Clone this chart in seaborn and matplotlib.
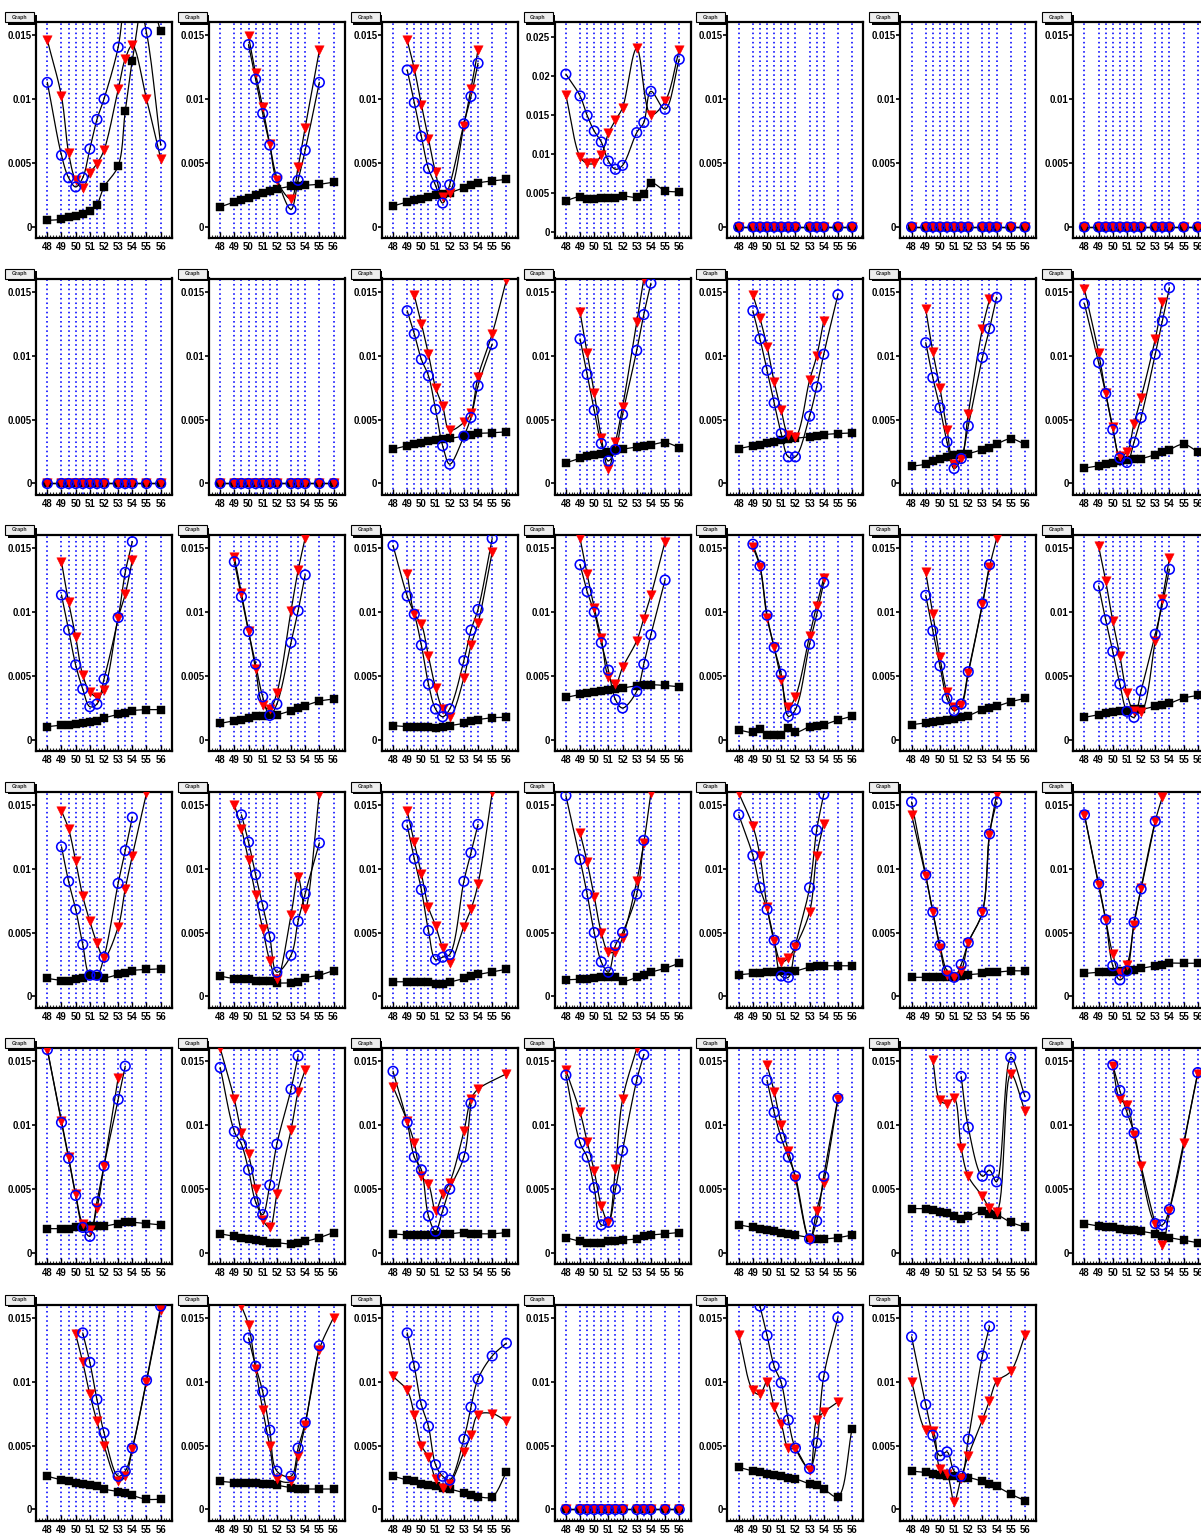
import numpy as np
import matplotlib
matplotlib.use("Agg")
import matplotlib.pyplot as plt
from matplotlib.patches import Rectangle
import seaborn as sns

sns.set_theme(style="white")
plt.rcParams['font.family'] = ['Liberation Sans', 'DejaVu Sans']

N = None
X = [48, 49, 49.5, 50, 50.5, 51, 51.5, 52, 53, 53.5, 54, 55, 56]
XTICKS = [48, 49, 50, 51, 52, 53, 54, 55, 56]
YTICKS = [0, 0.005, 0.01, 0.015]
YTICKLABELS = ["0", "0.005", "0.01", "0.015"]
YTICKS_WIDE = [0, 0.005, 0.01, 0.015, 0.02, 0.025]
YTICKLABELS_WIDE = ["0", "0.005", "0.01", "0.015", "0.02", "0.025"]
TITLE = "Graph"
UNIT = 1e-3  # all series below are in units of 1e-3

ZERO = [0, 0, 0, 0, 0, 0, 0, 0, 0, 0, 0, 0, 0]

# black squares (k), red triangles (r), blue circles (b)
k01 = [0.52, 0.6, 0.78, 0.83, 1.0, 1.25, 1.75, 3.13, 4.77, 9.05, 13.0, 18.5, 15.3]
r01 = [14.6, 10.2, 5.8, 3.65, 3.05, 4.2, 4.95, 6.0, 10.75, 13.15, 14.2, 10.0, 5.35]
b01 = [11.3, 5.6, 3.85, 3.13, 3.85, 6.1, 8.4, 10.0, 14.05, 18.0, 19.5, 15.2, 6.4]

k02 = [1.57, 1.96, 2.14, 2.3, 2.48, 2.66, 2.8, 2.97, 3.18, 3.23, 3.26, 3.34, 3.5]
r02 = [N, N, N, 14.9, 12.0, 9.34, 6.47, 3.65, 2.2, 4.7, 7.77, 13.8, N]
b02 = [N, N, N, 14.25, 11.55, 8.87, 6.4, 3.86, 1.38, 3.65, 6.0, 11.3, N]

k03 = [1.64, 1.96, 2.08, 2.19, 2.34, 2.47, 2.55, 2.68, 3.07, 3.26, 3.44, 3.6, 3.72]
r03 = [N, 14.6, 12.35, 9.57, 6.9, 4.26, 2.34, 2.68, 7.93, 10.8, 13.83, N, N]
b03 = [N, 12.27, 9.72, 7.07, 4.57, 3.25, 1.87, 3.3, 8.06, 10.2, 12.8, N, N]

k04 = [3.97, 4.49, 4.23, 4.15, 4.27, 4.32, 4.32, 4.57, 4.4, 4.83, 6.28, 5.26, 5.09]
r04 = [17.5, 9.6, 8.76, 8.76, 9.83, 12.6, 14.3, 15.9, 23.5, N, 15.0, 16.7, 23.3]
b04 = [20.2, 17.4, 14.9, 12.9, 11.5, 9.06, 8.0, 8.5, 12.7, 14.0, 18.0, 15.7, 22.1]

k10 = [2.69, 2.95, 3.05, 3.18, 3.29, 3.39, 3.44, 3.52, 3.7, 3.81, 3.91, 3.96, 4.04]
r10 = [N, N, 14.7, 12.5, 10.1, 7.5, 6.05, 4.17, 4.77, 5.48, 8.35, 11.7, 15.9]
b10 = [N, 13.5, 11.7, 9.7, 8.42, 5.79, 2.95, 1.51, 3.7, 5.16, 7.64, 10.9, N]

k11 = [1.61, 1.98, 2.14, 2.24, 2.34, 2.47, 2.6, 2.68, 2.86, 2.94, 3.02, 3.2, 2.81]
r11 = [N, 13.4, 10.2, 7.08, 3.59, 1.17, 3.25, 5.99, 12.6, 16.0, N, N, N]
b11 = [N, 11.3, 8.53, 5.73, 3.12, 1.77, 2.65, 5.39, 10.4, 13.2, 15.65, N, N]

k12 = [2.73, 2.94, 3.04, 3.17, 3.28, 3.38, 3.48, 3.54, 3.64, 3.72, 3.82, 3.9, 3.95]
r12 = [N, 14.75, 12.9, 10.7, 7.96, 5.72, 3.82, 3.64, 8.07, 9.95, 12.7, N, N]
b12 = [N, 13.5, 11.3, 8.85, 6.3, 3.9, 2.08, 2.08, 5.26, 7.54, 10.1, 14.75, N]

k13 = [1.35, 1.51, 1.72, 1.9, 2.08, 2.19, 2.29, 2.34, 2.65, 2.81, 3.07, 3.49, 3.07]
r13 = [N, 13.6, 10.3, 7.47, 4.21, 1.51, 1.95, 5.46, 12.1, 14.4, N, N, N]
b13 = [N, 11.0, 8.27, 5.91, 3.25, 1.17, 1.95, 4.5, 9.85, 12.1, 14.55, N, N]

k14 = [1.2, 1.38, 1.51, 1.63, 1.75, 1.85, 1.92, 1.95, 2.26, 2.47, 2.65, 3.07, 2.47]
r14 = [15.2, 10.2, 7.08, 4.42, 2.16, 2.47, 4.68, 6.71, 11.3, 14.2, N, N, N]
b14 = [14.05, 9.46, 7.03, 4.21, 2.0, 1.64, 3.22, 5.15, 10.1, 12.7, 15.3, N, N]

k15 = [1.04, 1.17, 1.2, 1.22, 1.3, 1.4, 1.51, 1.72, 2.0, 2.13, 2.29, 2.37, 2.37]
r15 = [N, 13.9, 10.8, 8.06, 5.07, 3.77, 3.38, 3.93, 9.52, 11.4, 14.05, N, N]
b15 = [N, 11.33, 8.6, 5.87, 3.98, 2.6, 2.81, 4.76, 9.57, 13.1, 15.5, N, N]

k16 = [1.3, 1.51, 1.59, 1.72, 1.85, 1.9, 1.95, 1.98, 2.29, 2.5, 2.68, 3.04, 3.2]
r16 = [N, 14.3, 11.46, 8.53, 5.55, 2.76, 2.42, 3.67, 10.1, 13.25, 15.8, N, N]
b16 = [N, 13.93, 11.2, 8.48, 5.93, 3.38, 1.92, 2.81, 7.62, 10.1, 12.9, N, N]

k17 = [1.12, 1.04, 1.04, 1.04, 0.99, 0.94, 0.99, 1.12, 1.3, 1.51, 1.59, 1.74, 1.77]
r17 = [N, 13.0, 9.88, 9.05, 6.55, 4.1, 2.42, 1.82, 4.84, 7.41, 9.12, 14.7, N]
b17 = [15.2, 11.25, 9.83, 7.41, 4.37, 2.42, 1.82, 2.42, 6.19, 8.58, 10.2, 15.75, N]

k18 = [3.33, 3.56, 3.67, 3.77, 3.85, 3.93, 4.0, 4.06, 4.24, 4.29, 4.32, 4.26, 4.16]
r18 = [N, 15.75, 12.95, 10.35, 7.95, 4.94, 4.37, 5.67, 7.75, 9.49, 11.3, 15.5, N]
b18 = [N, 13.7, 11.6, 10.0, 7.6, 5.46, 3.15, 2.5, 3.8, 5.93, 8.22, 12.5, N]

k19 = [0.78, 0.6, 0.86, 0.42, 0.36, 0.42, 0.96, 0.6, 1.04, 1.12, 1.2, 1.56, 1.85]
r19 = [N, 15.1, 13.5, 9.57, 7.23, 4.71, 2.55, 3.38, 8.14, 10.5, 12.65, N, N]
b19 = [N, 15.3, 13.6, 9.75, 7.23, 5.15, 1.85, 2.37, 7.49, 9.78, 12.3, N, N]

k20 = [1.2, 1.33, 1.43, 1.51, 1.59, 1.66, 1.77, 1.9, 2.37, 2.5, 2.63, 2.99, 3.25]
r20 = [N, 13.1, 9.83, 6.45, 3.72, 2.55, 2.76, 5.2, 10.6, 13.5, 15.75, N, N]
b20 = [N, 11.3, 8.53, 5.8, 3.25, 2.29, 2.81, 5.33, 10.65, 13.7, N, N, N]

k21 = [1.77, 1.98, 2.08, 2.16, 2.26, 2.29, 2.39, 2.39, 2.63, 2.73, 2.86, 3.28, 3.48]
r21 = [N, 15.15, 12.43, 9.31, 6.58, 3.64, 2.24, 2.16, 7.75, 11.0, 14.2, N, N]
b21 = [N, 12.04, 9.39, 6.92, 4.37, 2.24, 1.77, 3.85, 8.27, 10.6, 13.34, N, N]

k22 = [1.41, 1.25, 1.25, 1.33, 1.46, 1.66, 1.61, 1.46, 1.72, 1.87, 2.03, 2.11, 2.16]
r22 = [N, 14.5, 13.1, 10.57, 7.84, 5.88, 4.19, 3.02, 5.44, 8.43, 11.0, 15.9, N]
b22 = [N, 11.7, 9.0, 6.8, 4.06, 1.66, 1.66, 3.07, 8.84, 11.4, 14.0, N, N]

k23 = [1.59, 1.38, 1.35, 1.33, 1.25, 1.22, 1.2, 1.07, 1.07, 1.12, 1.46, 1.66, 2.03]
r23 = [N, 15.0, 13.1, 10.66, 7.9, 5.3, 2.76, 1.33, 6.35, 9.36, 6.86, 15.85, N]
b23 = [N, N, 14.2, 12.07, 9.52, 7.1, 4.66, 1.9, 3.22, 5.88, 8.04, 12.0, N]

k24 = [1.15, 1.15, 1.1, 1.12, 1.15, 0.94, 0.99, 1.12, 1.41, 1.61, 1.72, 1.92, 2.13]
r24 = [N, 14.5, 12.05, 9.6, 6.97, 5.54, 3.8, 2.63, 5.46, 6.81, 8.8, 15.95, N]
b24 = [N, 13.4, 10.77, 8.35, 5.15, 2.89, 3.07, 3.28, 9.0, 11.23, 13.45, N, N]

k25 = [1.3, 1.35, 1.4, 1.45, 1.5, 1.5, 1.55, 1.2, 1.5, 1.7, 1.9, 2.2, 2.6]
r25 = [N, 12.8, 10.5, 7.8, 5.0, 3.5, 3.5, 4.6, 9.0, 12.0, 15.9, N, N]
b25 = [15.7, 10.7, 8.0, 5.0, 2.7, 1.9, 4.0, 5.0, 8.0, 12.2, N, N, N]

k26 = [1.7, 1.8, 1.8, 1.9, 1.9, 2.0, 2.0, 2.0, 2.3, 2.4, 2.4, 2.4, 2.4]
r26 = [15.9, 13.3, 11.0, 7.0, 4.3, 2.7, 3.0, 3.9, 6.6, 11.0, 13.5, N, N]
b26 = [14.2, 11.0, 8.5, 6.8, 4.4, 1.6, 1.5, 4.0, 8.5, 13.0, 15.8, N, N]

k27 = [1.5, 1.5, 1.5, 1.5, 1.5, 1.5, 1.6, 1.7, 1.8, 1.9, 1.9, 2.0, 2.0]
r27 = [14.2, 9.4, 6.6, 3.8, 1.7, 1.5, 2.0, 4.2, 6.6, 12.6, 15.8, N, N]
b27 = [15.2, 9.5, 6.6, 4.0, 2.0, 1.5, 2.5, 4.2, 6.6, 12.7, 15.2, N, N]

k28 = [1.8, 1.9, 1.9, 1.9, 2.0, 2.0, 2.1, 2.2, 2.4, 2.5, 2.6, 2.6, 2.6]
r28 = [14.2, 8.7, 6.0, 3.3, 1.8, 2.5, 5.6, 8.5, 13.7, 15.6, N, N, N]
b28 = [14.2, 8.8, 6.0, 2.4, 1.3, 2.0, 5.8, 8.4, 13.7, N, N, N, N]

k29 = [1.9, 1.9, 1.9, 2.0, 2.0, 2.1, 2.1, 2.1, 2.3, 2.4, 2.4, 2.3, 2.2]
r29 = [15.9, 10.3, 7.5, 4.6, 2.3, 1.8, 3.5, 6.8, 13.7, N, N, N, N]
b29 = [15.9, 10.2, 7.4, 4.5, 2.0, 1.3, 4.0, 6.8, 12.0, 14.6, N, N, N]

k30 = [1.5, 1.3, 1.2, 1.1, 1.0, 0.9, 0.8, 0.8, 0.7, 0.8, 0.9, 1.2, 1.6]
r30 = [16.0, 12.0, 9.4, 7.7, 5.0, 2.6, 2.0, 4.6, 9.6, 12.6, 14.3, N, N]
b30 = [14.5, 9.5, 8.5, 6.5, 4.0, 3.0, 5.3, 8.5, 12.8, 15.4, N, N, N]

k31 = [1.5, 1.4, 1.4, 1.4, 1.4, 1.4, 1.5, 1.5, 1.6, 1.5, 1.5, 1.5, 1.6]
r31 = [13.0, 10.3, 8.6, 6.0, 5.4, 3.3, 4.6, 5.5, 9.5, 12.0, 12.8, N, 14.0]
b31 = [14.2, 10.2, 7.5, 6.5, 2.9, 1.7, 3.3, 5.0, 7.5, 11.7, N, N, N]

k32 = [1.2, 0.9, 0.8, 0.8, 0.8, 0.9, 0.9, 1.0, 1.1, 1.3, 1.4, 1.5, 1.6]
r32 = [14.3, 11.0, 8.7, 6.4, 3.7, 2.4, 6.6, 12.0, 16.0, N, N, N, N]
b32 = [13.9, 8.6, 7.5, 5.1, 2.2, 2.4, 5.0, 8.0, 13.5, 15.5, N, N, N]

k33 = [2.2, 2.0, 1.9, 1.8, 1.7, 1.6, 1.5, 1.4, 1.2, 1.1, 1.1, 1.2, 1.4]
r33 = [N, N, N, 14.7, 12.6, 10.0, 8.0, 5.8, 1.0, 3.3, 5.5, 12.0, N]
b33 = [N, N, N, 13.5, 11.0, 9.0, 7.5, 6.0, 1.1, 2.5, 6.0, 12.1, N]

k34 = [3.47, 3.47, 3.39, 3.23, 3.13, 2.92, 2.66, 2.87, 3.26, 3.05, 3.0, 2.4, 2.03]
r34 = [N, N, 15.07, 11.94, 11.68, 12.1, 8.22, 6.0, 4.43, 3.52, 3.18, 14.0, 11.1]
b34 = [N, N, N, N, N, N, 13.8, 9.83, 6.0, 6.47, 5.56, 15.3, 12.25]

k35 = [2.3, 2.1, 2.0, 2.0, 1.9, 1.8, 1.8, 1.7, 1.5, 1.3, 1.2, 1.0, 0.8]
r35 = [N, N, N, 14.6, 12.0, 11.6, 9.2, 6.8, 2.3, 0.6, 3.3, 8.6, 14.0]
b35 = [N, N, N, 14.7, 12.7, 11.0, 9.4, N, 2.3, 2.2, 3.4, N, 14.1]

k36 = [2.6, 2.3, 2.2, 2.1, 2.0, 1.9, 1.8, 1.6, 1.4, 1.3, 1.1, 0.8, 0.8]
r36 = [N, N, N, 13.7, 11.5, 9.0, 6.9, 5.0, 2.2, 2.6, 4.7, 10.0, 15.6]
b36 = [N, N, N, N, 13.8, 11.5, 8.6, 6.0, 2.6, 3.0, 4.8, 10.1, 15.9]

k37 = [2.2, 2.1, 2.1, 2.1, 2.1, 2.0, 2.0, 1.9, 1.7, 1.6, 1.6, 1.6, 1.6]
r37 = [N, N, 15.9, 14.4, 11.0, 7.8, 5.0, 2.4, 2.2, 4.2, 6.6, 12.5, 15.0]
b37 = [N, N, N, 13.4, 11.2, 9.2, 6.2, 3.0, 2.6, 4.8, 6.8, 12.8, N]

k38 = [2.6, 2.3, 2.2, 2.0, 1.9, 1.8, 1.7, 1.6, 1.3, 1.1, 1.0, 1.0, 2.9]
r38 = [10.4, 9.3, 7.4, 5.0, 4.1, 2.4, 1.7, 2.0, 4.5, 5.8, 7.4, 7.5, 6.9]
b38 = [N, 13.8, 11.2, 8.2, 6.5, 3.5, 2.6, 2.3, 5.5, 8.0, 10.2, 12.0, 13.0]

k40 = [3.3, 3.0, 2.9, 2.8, 2.7, 2.6, 2.5, 2.4, 2.0, 1.9, 1.6, 1.0, 6.3]
r40 = [13.6, 9.3, 9.0, 10.0, 8.0, 6.7, 4.8, 4.7, 3.1, 7.0, 7.6, 8.4, N]
b40 = [N, N, 15.9, 13.6, 11.2, 9.9, 7.0, 4.8, 3.2, 5.2, 10.4, 15.0, N]

k41 = [3.0, 2.9, 2.8, 2.7, 2.6, 2.6, 2.5, 2.5, 2.2, 2.0, 1.8, 1.2, 0.7]
r41 = [10.0, 6.2, 6.1, 3.2, 2.8, 0.6, 2.5, 4.2, 7.0, 8.5, 10.0, 10.8, 13.6]
b41 = [13.5, 8.2, 5.8, 4.2, 4.5, 3.0, 2.6, 5.5, 12.0, 14.3, N, N, N]

PANELS = [
    (k01, r01, b01), (k02, r02, b02), (k03, r03, b03), (k04, r04, b04),
    (ZERO, ZERO, ZERO), (ZERO, ZERO, ZERO), (ZERO, ZERO, ZERO),
    (ZERO, ZERO, ZERO), (ZERO, ZERO, ZERO), (k10, r10, b10), (k11, r11, b11),
    (k12, r12, b12), (k13, r13, b13), (k14, r14, b14),
    (k15, r15, b15), (k16, r16, b16), (k17, r17, b17), (k18, r18, b18),
    (k19, r19, b19), (k20, r20, b20), (k21, r21, b21),
    (k22, r22, b22), (k23, r23, b23), (k24, r24, b24), (k25, r25, b25),
    (k26, r26, b26), (k27, r27, b27), (k28, r28, b28),
    (k29, r29, b29), (k30, r30, b30), (k31, r31, b31), (k32, r32, b32),
    (k33, r33, b33), (k34, r34, b34), (k35, r35, b35),
    (k36, r36, b36), (k37, r37, b37), (k38, r38, b38), (ZERO, ZERO, ZERO),
    (k40, r40, b40), (k41, r41, b41),
]
WIDE_PANEL = 3

# ---------------- layout (pixels) ----------------
W, H = 1201, 1539
PW, PH = 172.85, 256.5
FL, FT, FW, FH = 36, 22, 136, 216
XLIM = (47.2, 56.8)
YLIM = (-0.86e-3, 16.02e-3)
YLIM_WIDE = (-0.81e-3, 26.88e-3)
LABEL_FS = 6.9


def smooth_curve(xs, ys, ylim, n=14):
    """Centripetal Catmull-Rom through the points (in pixel-like space)."""
    sx = FW / (XLIM[1] - XLIM[0])
    sy = FH / (ylim[1] - ylim[0])
    P = np.column_stack([np.asarray(xs) * sx, np.asarray(ys) * sy])
    if len(P) < 3:
        return np.asarray(xs), np.asarray(ys)
    Q = np.vstack([2 * P[0] - P[1], P, 2 * P[-1] - P[-2]])
    out = [P[0]]
    for i in range(1, len(Q) - 2):
        p0, p1, p2, p3 = Q[i - 1], Q[i], Q[i + 1], Q[i + 2]
        def nxt(t, a, b):
            return t + max(np.hypot(*(b - a)), 1e-6) ** 0.5
        t0 = 0.0
        t1 = nxt(t0, p0, p1)
        t2 = nxt(t1, p1, p2)
        t3 = nxt(t2, p2, p3)
        t = np.linspace(t1, t2, n)[1:][:, None]
        A1 = (t1 - t) / (t1 - t0) * p0 + (t - t0) / (t1 - t0) * p1
        A2 = (t2 - t) / (t2 - t1) * p1 + (t - t1) / (t2 - t1) * p2
        A3 = (t3 - t) / (t3 - t2) * p2 + (t - t2) / (t3 - t2) * p3
        B1 = (t2 - t) / (t2 - t0) * A1 + (t - t0) / (t2 - t0) * A2
        B2 = (t3 - t) / (t3 - t1) * A2 + (t - t1) / (t3 - t1) * A3
        C = (t2 - t) / (t2 - t1) * B1 + (t - t1) / (t2 - t1) * B2
        out.extend(C)
    out = np.array(out)
    return out[:, 0] / sx, out[:, 1] / sy


fig = plt.figure(figsize=(W / 100, H / 100), dpi=100)
fig.patch.set_facecolor("white")

STYLES = [
    dict(marker="s", s=36, color="black", fill=True),
    dict(marker="v", s=46, color="#ff0000", fill=True),
    dict(marker="o", s=48, color="#0000ff", fill=False),
]

for idx, series in enumerate(PANELS):
    row, col = divmod(idx, 7)
    px0, py0 = col * PW, row * PH
    left = (px0 + FL) / W
    bottom = 1 - (py0 + FT + FH) / H
    ax = fig.add_axes([left, bottom, FW / W, FH / H])
    wide = idx == WIDE_PANEL
    ylim = YLIM_WIDE if wide else YLIM
    ax.set_xlim(*XLIM)
    ax.set_ylim(*ylim)
    ax.set_facecolor("white")
    ax.grid(False)

    # dotted vertical grid at the sample positions
    ax.vlines(X, ylim[0], ylim[1], colors="#0000ff", linestyles=(0, (1.0, 1.9)),
              linewidth=1.15, zorder=0.5)

    for vals, st in zip(series, STYLES):
        xs = np.array([x for x, v in zip(X, vals) if v is not None], float)
        ys = np.array([v for v in vals if v is not None], float) * UNIT
        cx, cy = smooth_curve(xs, ys, ylim)
        sns.lineplot(x=cx, y=cy, ax=ax, sort=False, estimator=None,
                     color="black", linewidth=0.9, zorder=2)
        if st["fill"]:
            sns.scatterplot(x=xs, y=ys, ax=ax, marker=st["marker"], s=st["s"],
                            color=st["color"], edgecolor=st["color"],
                            linewidth=0.3, zorder=3)
        else:
            sns.scatterplot(x=xs, y=ys, ax=ax, marker=st["marker"], s=st["s"],
                            facecolor="none", edgecolor=st["color"],
                            linewidth=1.15, zorder=3)

    ax.set_xlabel("")
    ax.set_ylabel("")
    ax.set_xticks(XTICKS)
    ax.set_xticklabels([str(t) for t in XTICKS], fontsize=LABEL_FS, fontweight="bold")
    ax.set_xticks(np.arange(47.2, 56.81, 0.2), minor=True)
    if wide:
        ax.set_yticks(YTICKS_WIDE)
        ax.set_yticklabels(YTICKLABELS_WIDE, fontsize=LABEL_FS, fontweight="bold")
    else:
        ax.set_yticks(YTICKS)
        ax.set_yticklabels(YTICKLABELS, fontsize=LABEL_FS, fontweight="bold")
    ax.tick_params(axis="x", which="major", direction="in", length=4, width=1.0,
                   pad=3.0, colors="black", bottom=True, top=False)
    ax.tick_params(axis="x", which="minor", direction="in", length=2.2, width=0.8,
                   bottom=True, top=False)
    ax.tick_params(axis="y", which="major", direction="out", length=3, width=1.2,
                   pad=0.2, colors="black", left=True, right=False)
    ax.tick_params(axis="y", which="minor", left=False, right=False)
    for sp in ax.spines.values():
        sp.set_visible(True)
        sp.set_color("black")
        sp.set_linewidth(1.6)

    # "Graph" title box with shadow
    bx0, by0, bw, bh = px0 + 5, py0 + 12, 29, 10
    shadow = Rectangle(((bx0 + 2.5) / W, 1 - (by0 + bh + 2.5) / H), bw / W, bh / H,
                       transform=fig.transFigure, facecolor="black",
                       edgecolor="black", linewidth=0, zorder=5)
    box = Rectangle((bx0 / W, 1 - (by0 + bh) / H), bw / W, bh / H,
                    transform=fig.transFigure, facecolor="#eeeeee",
                    edgecolor="black", linewidth=0.8, zorder=6)
    fig.add_artist(shadow)
    fig.add_artist(box)
    fig.text((bx0 + bw / 2) / W, 1 - (by0 + bh / 2) / H, TITLE,
             ha="center", va="center", fontsize=3.8, fontweight="bold",
             zorder=7)

fig.savefig("out.png", dpi=100, facecolor="white")
